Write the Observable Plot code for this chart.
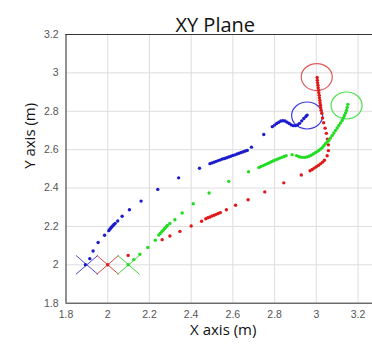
<!DOCTYPE html>
<html><head><meta charset="utf-8">
<script src="https://cdn.jsdelivr.net/npm/d3@7"></script>
<script src="https://cdn.jsdelivr.net/npm/@observablehq/plot@0.6"></script>
<style>body{margin:0;background:#fff;}</style>
</head><body><div id="chart"></div>
<script>
const titleText = "XY Plane";
const xLabel = "X axis (m)";
const yLabel = "Y axis (m)";
const xTicks = [1.8, 2, 2.2, 2.4, 2.6, 2.8, 3, 3.2];
const yTicks = [1.8, 2, 2.2, 2.4, 2.6, 2.8, 3, 3.2];

const seriesNames = ["S1", "S2", "S3"];
const dotColors = ["#1c1ccc", "#e01818", "#22dd22"];
const crossColors = ["#4a4ad4", "#d44a4a", "#4ad44a"];
const ringColors = ["#3a3ae0", "#e05a5a", "#50e050"];

const startX = [1.9, 2.0, 2.1];
const startY = [2.0, 2.0, 2.0];
const endX = [2.956, 3.002, 3.145];
const endY = [2.778, 2.978, 2.830];

const blueX = [1.893,1.914,1.930,1.954,1.985,2.005,2.010,2.015,2.020,2.025,2.030,2.036,2.048,2.069,2.104,2.160,2.240,2.340,2.440,2.490,2.500,2.510,2.520,2.530,2.540,2.550,2.560,2.570,2.580,2.590,2.600,2.610,2.620,2.630,2.640,2.650,2.660,2.669,2.689,2.748,2.789,2.800,2.810,2.820,2.830,2.840,2.850,2.860,2.870,2.880,2.890,2.900,2.910,2.920,2.930,2.940,2.950,2.956];
const blueY = [2.000,2.032,2.072,2.116,2.154,2.178,2.185,2.192,2.198,2.204,2.210,2.216,2.228,2.253,2.287,2.332,2.393,2.453,2.503,2.527,2.531,2.535,2.539,2.543,2.547,2.551,2.554,2.558,2.562,2.566,2.570,2.573,2.577,2.581,2.585,2.589,2.593,2.596,2.613,2.679,2.720,2.728,2.736,2.743,2.749,2.751,2.749,2.743,2.736,2.729,2.725,2.725,2.729,2.737,2.750,2.762,2.773,2.780];

const redX = [2.000,2.098,2.261,2.298,2.346,2.400,2.450,2.470,2.480,2.490,2.500,2.510,2.520,2.530,2.540,2.569,2.613,2.673,2.753,2.844,2.928,2.970,2.980,2.990,3.000,3.010,3.020,3.030,3.039,3.052,3.058,3.058,3.053,3.048,3.042,3.035,3.030,3.026,3.023,3.021,3.020,3.018,3.017,3.015,3.014,3.012,3.011,3.009,3.008,3.006,3.005,3.004];
const redY = [2.000,2.049,2.131,2.150,2.174,2.202,2.227,2.240,2.245,2.249,2.254,2.258,2.263,2.267,2.272,2.287,2.310,2.339,2.380,2.427,2.468,2.490,2.497,2.504,2.511,2.518,2.526,2.535,2.545,2.568,2.595,2.625,2.655,2.685,2.712,2.740,2.765,2.790,2.805,2.818,2.831,2.844,2.857,2.870,2.883,2.896,2.909,2.922,2.935,2.948,2.961,2.976];

const greenX = [2.098,2.125,2.154,2.192,2.228,2.245,2.252,2.259,2.266,2.273,2.280,2.286,2.298,2.322,2.357,2.410,2.486,2.580,2.675,2.725,2.735,2.745,2.755,2.765,2.775,2.785,2.795,2.805,2.815,2.825,2.835,2.845,2.855,2.884,2.905,2.915,2.925,2.935,2.945,2.955,2.965,2.975,2.985,2.995,3.004,3.012,3.020,3.028,3.036,3.044,3.052,3.060,3.068,3.076,3.084,3.092,3.100,3.108,3.116,3.124,3.130,3.135,3.140,3.145,3.148,3.151];
const greenY = [2.000,2.027,2.055,2.090,2.128,2.155,2.163,2.172,2.180,2.189,2.197,2.205,2.215,2.235,2.270,2.318,2.374,2.435,2.485,2.507,2.512,2.517,2.522,2.527,2.532,2.537,2.542,2.547,2.551,2.556,2.560,2.564,2.568,2.574,2.569,2.564,2.561,2.560,2.560,2.562,2.566,2.571,2.577,2.584,2.590,2.596,2.603,2.610,2.620,2.631,2.640,2.648,2.661,2.674,2.687,2.700,2.713,2.726,2.739,2.752,2.765,2.778,2.791,2.804,2.820,2.836];

const seriesXs = [blueX, redX, greenX];
const seriesYs = [blueY, redY, greenY];
const points = seriesNames.flatMap((s, i) => seriesXs[i].map((x, j) => ({i, x, y: seriesYs[i][j]})));
const starts = seriesNames.map((s, i) => ({i, x: startX[i], y: startY[i]}));
const ends = seriesNames.map((s, i) => ({i, x: endX[i], y: endY[i]}));

// marker shapes (pixel geometry)
const ringSymbol = {draw(ctx) {
  const rx = 15.5, ry = 13.5, k = 0.5523;
  ctx.moveTo(rx, 0);
  ctx.bezierCurveTo(rx, ry*k, rx*k, ry, 0, ry);
  ctx.bezierCurveTo(-rx*k, ry, -rx, ry*k, -rx, 0);
  ctx.bezierCurveTo(-rx, -ry*k, -rx*k, -ry, 0, -ry);
  ctx.bezierCurveTo(rx*k, -ry, rx, -ry*k, rx, 0);
  ctx.closePath();
}};
const crossSymbol = {draw(ctx) {
  const a = 11, b = 9.5;
  ctx.moveTo(-a, -b); ctx.lineTo(a, b);
  ctx.moveTo(-a, b); ctx.lineTo(a, -b);
}};

const W = 372, H = 348;
const mL = 65.5, mT = 34, mB = 45.3, mR = 0;
const xMax = 1.8 + (W - mL - mR) / 208.6;
const fmt = (d) => String(+d.toFixed(1));

const chart = Plot.plot({
  width: W, height: H,
  marginLeft: mL, marginRight: mR, marginTop: mT, marginBottom: mB,
  style: {fontFamily: "Liberation Sans, Arial, sans-serif", background: "#fff"},
  x: {domain: [1.8, xMax], label: null},
  y: {domain: [1.8, 3.2], label: null},
  marks: [
    Plot.gridX(xTicks, {stroke: "#dedede", strokeOpacity: 1}),
    Plot.gridY(yTicks, {stroke: "#dedede", strokeOpacity: 1}),
    Plot.axisX(xTicks, {tickSize: 0, tickPadding: 7.5, fontSize: 10.5, fill: "#555", tickFormat: fmt, label: null}),
    Plot.axisY(yTicks, {tickSize: 0, tickPadding: 7.5, fontSize: 10.5, fill: "#555", tickFormat: fmt, label: null}),
    Plot.ruleX([1.8], {stroke: "#333"}),
    Plot.ruleY([1.8, 3.2], {stroke: "#333"}),
    Plot.dot(starts, {x: "x", y: "y", symbol: crossSymbol, stroke: (d) => crossColors[d.i], strokeWidth: 1, r: 5}),
    Plot.dot(ends, {x: "x", y: "y", symbol: ringSymbol, stroke: (d) => ringColors[d.i], strokeWidth: 1.2, r: 5}),
    Plot.dot(points, {x: "x", y: "y", fill: (d) => dotColors[d.i], r: 1.7, stroke: null}),
    Plot.text([titleText], {text: (d) => d, frameAnchor: "top", dy: -17, dx: -4, fontSize: 20, fontFamily: "Open Sans", fill: "#111"}),
    Plot.text([xLabel], {text: (d) => d, frameAnchor: "bottom", lineAnchor: "bottom", dy: 32, dx: 4, fontSize: 15, fontFamily: "Open Sans", fill: "#111"}),
    Plot.text([yLabel], {text: (d) => d, frameAnchor: "left", dx: -36, rotate: -90, fontSize: 15, fontFamily: "Open Sans", fill: "#111"})
  ]
});
document.getElementById("chart").appendChild(chart);
</script>
</body></html>
